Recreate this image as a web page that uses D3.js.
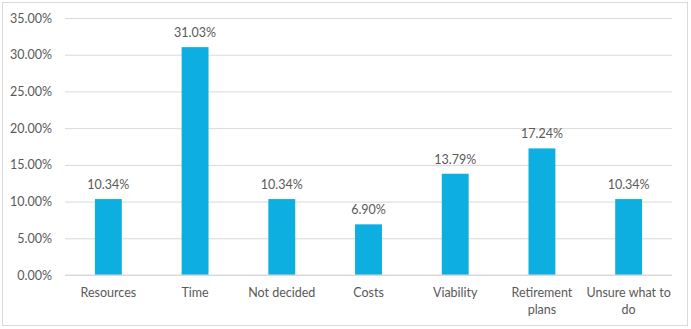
<!DOCTYPE html>
<html>
<head>
<meta charset="utf-8">
<script src="https://cdn.jsdelivr.net/npm/d3@7"></script>
<style>
  body { margin: 0; background: #fff; }
  text { font-family: "Lato", "Liberation Sans", sans-serif; fill: #595959; }
</style>
</head>
<body>
<div id="container"></div>
<script>
var categories = ["Resources", "Time", "Not decided", "Costs", "Viability", "Retirement plans", "Unsure what to do"]
var shares = [10.34, 31.03, 10.34, 6.90, 13.79, 17.24, 10.34]
var yTicks = [0, 5, 10, 15, 20, 25, 30, 35]

var W = 691, H = 329
var margin = { top: 18, left: 65, right: 19, bottom: 54 },
  width = W - margin.left - margin.right,
  height = H - margin.top - margin.bottom

var svg = d3.select("#container")
  .append("svg")
  .attr("width", W)
  .attr("height", H)

// Borde del gráfico
svg.append("rect")
  .attr("x", 2.5).attr("y", 2.5)
  .attr("width", 685).attr("height", 323)
  .attr("fill", "none")
  .attr("stroke", "#d9d9d9")
  .attr("stroke-width", 1)

var g = svg.append("g")
  .attr("transform", "translate(" + margin.left + "," + margin.top + ")")

var xScale = d3.scaleBand()
  .domain(categories)
  .range([0, width])
  .paddingInner(0.69)
  .paddingOuter(0.345)

var yScale = d3.scaleLinear()
  .domain([0, 35])
  .range([height, 0])

// Líneas de cuadrícula
var yAxis = d3.axisLeft(yScale)
  .tickValues(yTicks)
  .tickSize(-width)
  .tickPadding(13)
  .tickFormat(function(d) { return d.toFixed(2) + "%" })

var yg = g.append("g").call(yAxis)
yg.select(".domain").remove()
yg.selectAll("line").attr("stroke", "#d9d9d9")
yg.selectAll("text")
  .attr("font-size", 12.5)
  .style("font-family", "Lato, 'Liberation Sans', sans-serif")
  .attr("fill", "#595959")

// Barras
g.selectAll(".bar")
  .data(shares)
  .enter().append("rect")
  .attr("class", "bar")
  .attr("x", function(d, i) { return xScale(categories[i]) })
  .attr("width", xScale.bandwidth())
  .attr("y", function(d) { return yScale(d) })
  .attr("height", function(d) { return height - yScale(d) })
  .attr("fill", "#0cafe0")

// Etiquetas de valor
g.selectAll(".val")
  .data(shares)
  .enter().append("text")
  .attr("class", "val")
  .attr("x", function(d, i) { return xScale(categories[i]) + xScale.bandwidth() / 2 })
  .attr("y", function(d) { return yScale(d) - 10 })
  .attr("text-anchor", "middle")
  .attr("font-size", 12.5)
  .text(function(d) { return d.toFixed(2) + "%" })

// Eje X
var xg = g.append("g").attr("transform", "translate(0," + height + ")")
xg.append("line")
  .attr("x1", 0).attr("x2", width)
  .attr("stroke", "#d9d9d9")

var wrapped = {
  "Retirement plans": ["Retirement", "plans"],
  "Unsure what to do": ["Unsure what to", "do"]
}

xg.selectAll(".cat")
  .data(categories)
  .enter().append("text")
  .attr("class", "cat")
  .attr("x", function(d) { return xScale(d) + xScale.bandwidth() / 2 })
  .attr("y", 22)
  .attr("text-anchor", "middle")
  .attr("font-size", 12.5)
  .each(function(d) {
    var lines = wrapped[d] || [d]
    var t = d3.select(this)
    lines.forEach(function(l, i) {
      t.append("tspan")
        .attr("x", xScale(d) + xScale.bandwidth() / 2)
        .attr("dy", i == 0 ? 0 : 16.5)
        .text(l)
    })
  })
</script>
</body>
</html>
